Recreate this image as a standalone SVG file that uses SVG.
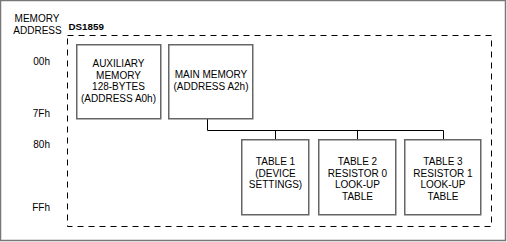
<svg xmlns="http://www.w3.org/2000/svg" width="507" height="242" viewBox="0 0 507 242">
<style>
text{font-family:"Liberation Sans",Arial,sans-serif;font-size:10px;fill:#000}
.c{text-anchor:middle}
.r{text-anchor:end}
.b{font-weight:bold;font-size:9.8px}
.box{fill:#fff;stroke:#666;stroke-width:1.5}
.dash{fill:none;stroke:#000;stroke-width:1;stroke-dasharray:6,5}
.conn{fill:none;stroke:#000;stroke-width:1}
</style>
<rect x="0.5" y="0.5" width="505" height="240" fill="#fff" stroke="#777" stroke-width="1.5"/>
<g id="labels">
<text class="c" x="37" y="22">MEMORY</text>
<text class="c" x="37.5" y="33.5">ADDRESS</text>
<text class="b" x="68.5" y="30">DS1859</text>
<text class="r" x="50" y="65">00h</text>
<text class="r" x="50" y="117">7Fh</text>
<text class="r" x="50" y="148">80h</text>
<text class="r" x="50" y="211">FFh</text>
</g>
<g id="ds1859"><rect class="dash" x="67.5" y="35.5" width="424" height="191"/></g>
<g id="connectors">
<polyline class="conn" points="207.5,119 207.5,130.5 443.5,130.5 443.5,140"/>
<line class="conn" x1="275.5" y1="130.5" x2="275.5" y2="139"/>
<line class="conn" x1="357.5" y1="130.5" x2="357.5" y2="139"/>
</g>
<g id="aux">
<rect class="box" x="76.75" y="44.75" width="84" height="74"/>
<text class="c" x="118.5" y="67">AUXILIARY</text>
<text class="c" x="118.5" y="78.5">MEMORY</text>
<text class="c" x="118.5" y="90">128-BYTES</text>
<text class="c" x="118.5" y="101.5">(ADDRESS A0h)</text>
</g>
<g id="main">
<rect class="box" x="168.75" y="44.75" width="84" height="74"/>
<text class="c" x="211" y="78">MAIN MEMORY</text>
<text class="c" x="211" y="89.5">(ADDRESS A2h)</text>
</g>
<g id="table1">
<rect class="box" x="241.75" y="139.75" width="67" height="75"/>
<text class="c" x="275.5" y="165">TABLE 1</text>
<text class="c" x="275.5" y="176.5">(DEVICE</text>
<text class="c" x="275.5" y="188">SETTINGS)</text>
</g>
<g id="table2">
<rect class="box" x="318.75" y="139.75" width="77" height="75"/>
<text class="c" x="357.5" y="165">TABLE 2</text>
<text class="c" x="357.5" y="176.5">RESISTOR 0</text>
<text class="c" x="357.5" y="188">LOOK-UP</text>
<text class="c" x="357.5" y="199.5">TABLE</text>
</g>
<g id="table3">
<rect class="box" x="404.75" y="139.75" width="76" height="75"/>
<text class="c" x="443" y="165">TABLE 3</text>
<text class="c" x="443" y="176.5">RESISTOR 1</text>
<text class="c" x="443" y="188">LOOK-UP</text>
<text class="c" x="443" y="199.5">TABLE</text>
</g>
</svg>
